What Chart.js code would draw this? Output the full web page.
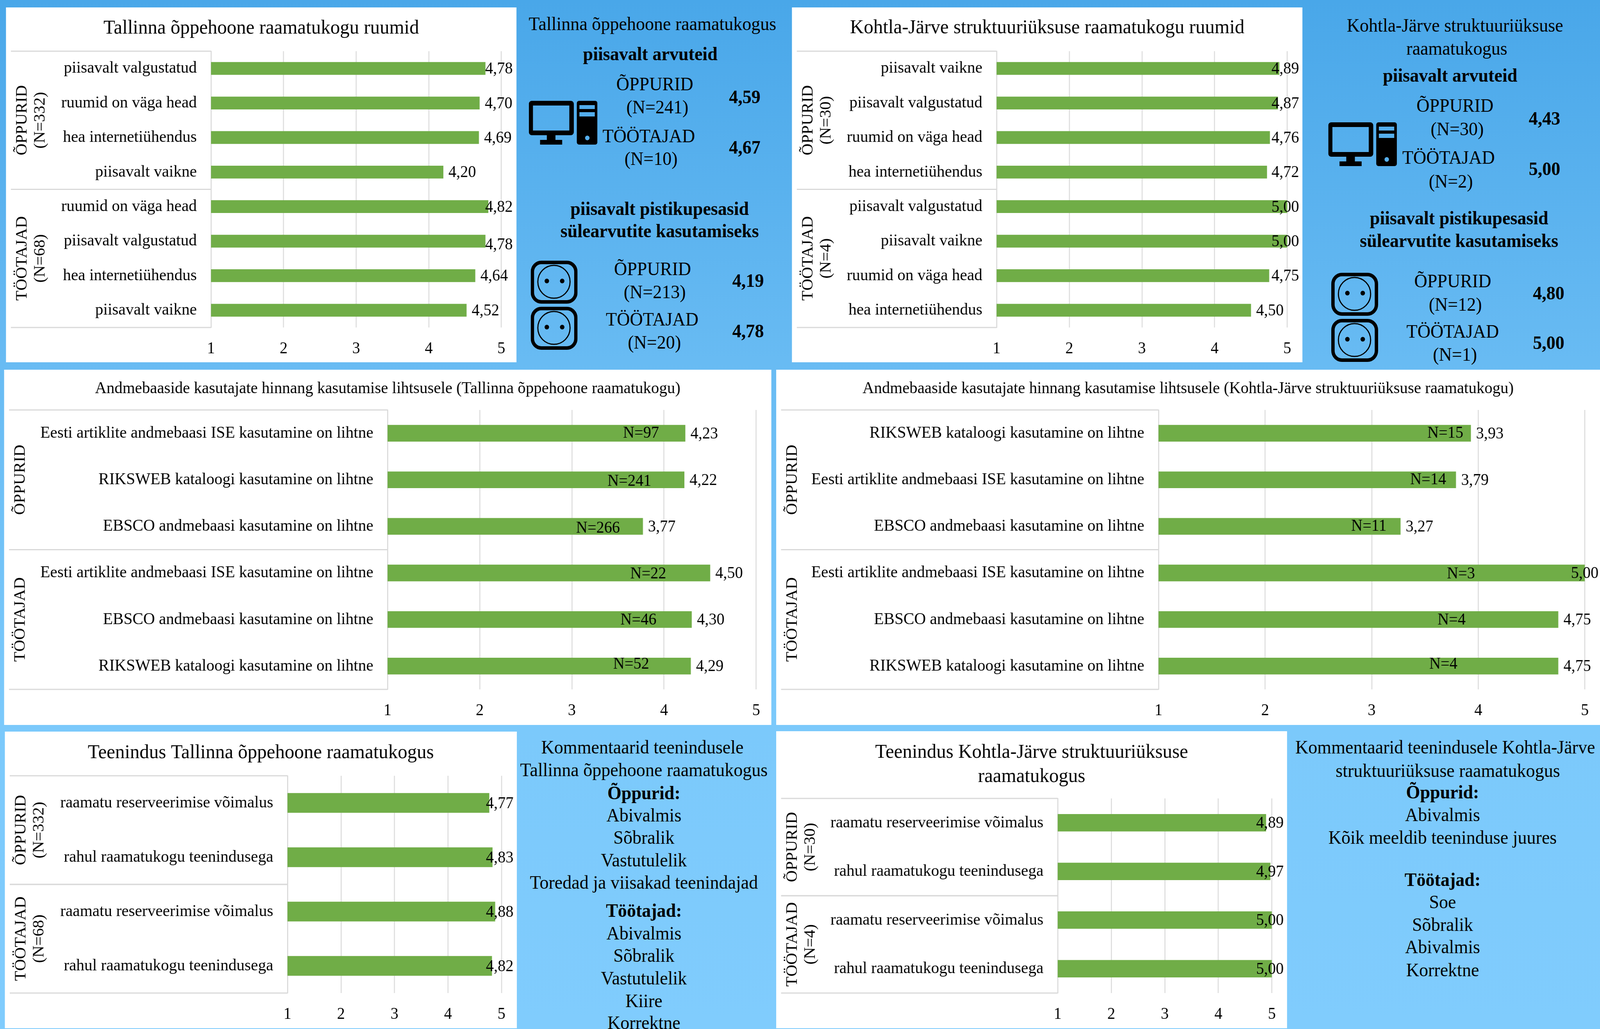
<!DOCTYPE html>
<html>
<head>
<meta charset="utf-8">
<script src="https://cdn.jsdelivr.net/npm/chart.js@4"></script>
<style>
html, body { margin: 0; padding: 0; overflow: hidden; }
#page {
    position: absolute; left: 0; top: 0; width: 4269px; height: 2633px; overflow: hidden;
    transform-origin: 0 0;
    background: linear-gradient(180deg, #49a7e9 0%, #68bbf3 35%, #7bc9fb 70%, #80ccfd 100%);
    font-family: "Liberation Serif", serif; color: #000;
}
.white { position: absolute; background: #fff; }
.white canvas { display: block; }
.txt { position: absolute; transform: translate(-50%, -50%); white-space: nowrap; line-height: 1; }
.ico { position: absolute; }
</style>
</head>
<body>
<svg width="0" height="0" style="position:absolute">
    <symbol id="computer" viewBox="0 0 183 112">
        <path fill-rule="evenodd" d="M8 0H112A8 8 0 0 1 120 8V80A8 8 0 0 1 112 88H71V100H89V112H30V100H48V88H8A8 8 0 0 1 0 80V8A8 8 0 0 1 8 0ZM11 12V76H108V12Z"/>
        <path fill-rule="evenodd" d="M134 0H177A6 6 0 0 1 183 6V106A6 6 0 0 1 177 112H134A6 6 0 0 1 128 106V6A6 6 0 0 1 134 0ZM135 11V21H176V11ZM135 29V40H176V29ZM150 95A6 6 0 1 0 162 95A6 6 0 1 0 150 95Z"/>
    </symbol>
    <symbol id="socket" viewBox="0 0 125 110">
        <rect x="4.5" y="4.5" width="116" height="101" rx="24" fill="none" stroke="#000" stroke-width="9"/>
        <ellipse cx="62" cy="54" rx="43" ry="42" fill="none" stroke="#000" stroke-width="3"/>
        <circle cx="43" cy="52" r="6"/>
        <circle cx="84" cy="52" r="6"/>
    </symbol>
</svg>
<div id="page"></div>
<script>
Chart.defaults.devicePixelRatio = 1;

// the browser window stops at 4096 wide, so squeeze the 4269 wide layout into it
const page = document.getElementById('page');
page.style.transform = 'scaleX(' + (window.innerWidth / 4269) + ')';

// ruumid
const tallinnRoomLabels = ['piisavalt valgustatud', 'ruumid on väga head', 'hea internetiühendus', 'piisavalt vaikne', 'ruumid on väga head', 'piisavalt valgustatud', 'hea internetiühendus', 'piisavalt vaikne'];
const tallinnRoomValues = [4.78, 4.70, 4.69, 4.20, 4.82, 4.78, 4.64, 4.52];
const kohtlaRoomLabels = ['piisavalt vaikne', 'piisavalt valgustatud', 'ruumid on väga head', 'hea internetiühendus', 'piisavalt valgustatud', 'piisavalt vaikne', 'ruumid on väga head', 'hea internetiühendus'];
const kohtlaRoomValues = [4.89, 4.87, 4.76, 4.72, 5.00, 5.00, 4.75, 4.50];

// andmebaasid
const ise = 'Eesti artiklite andmebaasi ISE kasutamine on lihtne';
const riks = 'RIKSWEB kataloogi kasutamine on lihtne';
const ebsco = 'EBSCO andmebaasi kasutamine on lihtne';
const tallinnDbLabels = [ise, riks, ebsco, ise, ebsco, riks];
const tallinnDbValues = [4.23, 4.22, 3.77, 4.50, 4.30, 4.29];
const tallinnDbCounts = ['N=97', 'N=241', 'N=266', 'N=22', 'N=46', 'N=52'];
const kohtlaDbLabels = [riks, ise, ebsco, ise, ebsco, riks];
const kohtlaDbValues = [3.93, 3.79, 3.27, 5.00, 4.75, 4.75];
const kohtlaDbCounts = ['N=15', 'N=14', 'N=11', 'N=3', 'N=4', 'N=4'];

// teenindus
const serviceLabels = ['raamatu reserveerimise võimalus', 'rahul raamatukogu teenindusega', 'raamatu reserveerimise võimalus', 'rahul raamatukogu teenindusega'];
const tallinnServiceValues = [4.77, 4.83, 4.88, 4.82];
const kohtlaServiceValues = [4.89, 4.97, 5.00, 5.00];

const axisTicks = [1, 2, 3, 4, 5];

const serif = 'Liberation Serif';

const groupLabels = {
    id: 'groupLabels',
    afterDraw(chart, args, opts) {
        const c = chart.ctx, a = chart.chartArea;
        const slot = (a.bottom - a.top) / chart.data.labels.length;
        c.save();
        let start = 0;
        opts.groups.forEach(g => {
            const top = a.top + start * slot, bottom = top + g.count * slot;
            c.strokeStyle = '#d9d9d9';
            c.lineWidth = 3;
            c.beginPath();
            c.moveTo(13, top); c.lineTo(a.left, top);
            c.moveTo(13, bottom); c.lineTo(a.left, bottom);
            c.stroke();
            c.fillStyle = '#000';
            c.font = '42px "' + serif + '"';
            c.textAlign = 'center';
            c.textBaseline = 'middle';
            g.lines.forEach((t, i) => {
                c.save();
                c.translate(44 + i * 48, (top + bottom) / 2);
                c.rotate(-Math.PI / 2);
                c.fillText(t, 0, 0);
                c.restore();
            });
            start += g.count;
        });
        c.restore();
    }
};

const barLabels = {
    id: 'barLabels',
    afterDatasetsDraw(chart, args, opts) {
        const c = chart.ctx;
        const bars = chart.getDatasetMeta(0).data;
        const values = chart.data.datasets[0].data;
        c.save();
        c.fillStyle = '#000';
        c.font = '42px "' + serif + '"';
        c.textBaseline = 'middle';
        c.textAlign = 'left';
        bars.forEach((b, i) => {
            const t = values[i].toFixed(2).replace('.', ',');
            const w = c.measureText(t).width;
            const x = Math.min(b.x + 14, chart.width - opts.margin - w);
            c.fillText(t, x, b.y + 2 + (opts.shift ? opts.shift[i] : 0));
        });
        if (opts.counts) {
            c.textAlign = 'right';
            bars.forEach((b, i) => {
                c.fillText(opts.counts[i], b.x - opts.gaps[i], b.y + opts.drop[i]);
            });
        }
        c.restore();
    }
};

function makeChart(cfg) {
    const box = cfg.box, plot = cfg.plot;
    const div = document.createElement('div');
    div.className = 'white';
    div.style.left = box[0] + 'px';
    div.style.top = box[1] + 'px';
    div.style.width = (box[2] - box[0]) + 'px';
    div.style.height = (box[3] - box[1]) + 'px';
    const canvas = document.createElement('canvas');
    canvas.width = box[2] - box[0];
    canvas.height = box[3] - box[1];
    div.appendChild(canvas);
    page.appendChild(div);

    const titleLines = cfg.title.length;
    const titleH = titleLines * cfg.titleSize * 1.2;
    const padTop = cfg.titleY - box[1] - cfg.titleSize * 0.6;
    const padBottom = plot[1] - box[1] - padTop - titleH;
    // same padding on both sides keeps the title in the middle of the panel
    const side = box[2] - plot[2];

    return new Chart(canvas, {
        type: 'bar',
        data: {
            labels: cfg.labels,
            datasets: [{
                data: cfg.values,
                backgroundColor: '#70ad47',
                barThickness: cfg.barSize,
                borderWidth: 0
            }]
        },
        plugins: [groupLabels, barLabels],
        options: {
            indexAxis: 'y',
            responsive: false,
            animation: false,
            layout: { padding: { left: side, top: 0, right: side, bottom: 0 } },
            scales: {
                x: {
                    min: axisTicks[0],
                    max: axisTicks[axisTicks.length - 1],
                    afterBuildTicks: s => { s.ticks = axisTicks.map(v => ({ value: v })); },
                    afterFit: s => { s.height = box[3] - plot[3]; },
                    grid: { color: '#d9d9d9', lineWidth: 2.5, drawTicks: false },
                    border: { display: false },
                    ticks: { color: '#000', font: { family: serif, size: 42 }, padding: 30, maxRotation: 0 }
                },
                y: {
                    afterFit: s => { s.width = plot[0] - box[0] - side; },
                    grid: { display: false, drawTicks: false },
                    border: { color: '#d9d9d9', width: 2.5 },
                    ticks: { color: '#000', font: { family: serif, size: cfg.tickSize }, padding: 38, autoSkip: false }
                }
            },
            plugins: {
                legend: { display: false },
                tooltip: { enabled: false },
                title: {
                    display: true,
                    text: cfg.title,
                    color: '#000',
                    font: { family: serif, size: cfg.titleSize, weight: 'normal', lineHeight: 1.2 },
                    padding: { top: padTop, bottom: padBottom }
                },
                groupLabels: { groups: cfg.groups },
                barLabels: { margin: cfg.margin, counts: cfg.counts, gaps: cfg.gaps, drop: cfg.drop, shift: cfg.shift }
            }
        }
    });
}

makeChart({
    box: [16, 19, 1378, 927], plot: [563, 131, 1338, 838],
    title: ['Tallinna õppehoone raamatukogu ruumid'], titleY: 73, titleSize: 51, tickSize: 43,
    labels: tallinnRoomLabels, values: tallinnRoomValues, barSize: 32, margin: 10,
    shift: [0, 0, 0, 0, 0, 8, 0, 0],
    groups: [{ lines: ['ÕPPURID', '(N=332)'], count: 4 }, { lines: ['TÖÖTAJAD', '(N=68)'], count: 4 }]
});
makeChart({
    box: [2113, 19, 3475, 927], plot: [2659, 131, 3435, 838],
    title: ['Kohtla-Järve struktuuriüksuse raamatukogu ruumid'], titleY: 72, titleSize: 51, tickSize: 43,
    labels: kohtlaRoomLabels, values: kohtlaRoomValues, barSize: 32, margin: 9,
    groups: [{ lines: ['ÕPPURID', '(N=30)'], count: 4 }, { lines: ['TÖÖTAJAD', '(N=4)'], count: 4 }]
});
makeChart({
    box: [11, 946, 2058, 1855], plot: [1034, 1049, 2018, 1764],
    title: ['Andmebaaside kasutajate hinnang kasutamise lihtsusele (Tallinna õppehoone raamatukogu)'], titleY: 995, titleSize: 42.6, tickSize: 43,
    labels: tallinnDbLabels, values: tallinnDbValues, barSize: 42, margin: 4,
    counts: tallinnDbCounts, gaps: [70, 88, 61, 117, 94, 111], drop: [0, 4, 5, 3, 2, -4],
    groups: [{ lines: ['ÕPPURID'], count: 3 }, { lines: ['TÖÖTAJAD'], count: 3 }]
});
makeChart({
    box: [2071, 946, 4269, 1855], plot: [3091, 1049, 4233, 1764],
    title: ['Andmebaaside kasutajate hinnang kasutamise lihtsusele (Kohtla-Järve struktuuriüksuse raamatukogu)'], titleY: 995, titleSize: 42.6, tickSize: 43,
    labels: kohtlaDbLabels, values: kohtlaDbValues, barSize: 42, margin: 4,
    counts: kohtlaDbCounts, gaps: [20, 26, 37, 293, 247, 269], drop: [0, 0, 0, 3, 2, -4],
    groups: [{ lines: ['ÕPPURID'], count: 3 }, { lines: ['TÖÖTAJAD'], count: 3 }]
});
makeChart({
    box: [13, 1872, 1379, 2631], plot: [767, 1985, 1338, 2541],
    title: ['Teenindus Tallinna õppehoone raamatukogus'], titleY: 1927, titleSize: 51, tickSize: 43,
    labels: serviceLabels, values: tallinnServiceValues, barSize: 50, margin: 9,
    groups: [{ lines: ['ÕPPURID', '(N=332)'], count: 2 }, { lines: ['TÖÖTAJAD', '(N=68)'], count: 2 }]
});
makeChart({
    box: [2071, 1871, 3434, 2631], plot: [2822, 2043, 3394, 2541],
    title: ['Teenindus Kohtla-Järve struktuuriüksuse', 'raamatukogus'], titleY: 1926, titleSize: 51, tickSize: 43,
    labels: serviceLabels, values: kohtlaServiceValues, barSize: 44, margin: 9,
    groups: [{ lines: ['ÕPPURID', '(N=30)'], count: 2 }, { lines: ['TÖÖTAJAD', '(N=4)'], count: 2 }]
});

// tekstipaneelid
const pcTallinn = ['4,59', '4,67'];
const plugTallinn = ['4,19', '4,78'];
const pcKohtla = ['4,43', '5,00'];
const plugKohtla = ['4,80', '5,00'];

const panelTexts = [
    ['Tallinna õppehoone raamatukogus', 1741, 61, 48],
    ['piisavalt arvuteid', 1735, 138, 48, 1],
    ['ÕPPURID', 1747, 215, 48],
    ['(N=241)', 1754, 274, 48],
    ['TÖÖTAJAD', 1731, 348, 48],
    ['(N=10)', 1737, 406, 48],
    [pcTallinn[0], 1987, 248, 48, 1],
    [pcTallinn[1], 1987, 377, 48, 1],
    ['piisavalt pistikupesasid', 1760, 534, 48, 1],
    ['sülearvutite kasutamiseks', 1760, 591, 48, 1],
    ['ÕPPURID', 1741, 688, 48],
    ['(N=213)', 1747, 747, 48],
    ['TÖÖTAJAD', 1740, 817, 48],
    ['(N=20)', 1746, 876, 48],
    [plugTallinn[0], 1996, 718, 48, 1],
    [plugTallinn[1], 1996, 847, 48, 1],

    ['Kohtla-Järve struktuuriüksuse', 3882, 65, 48],
    ['raamatukogus', 3887, 124, 48],
    ['piisavalt arvuteid', 3869, 193, 48, 1],
    ['ÕPPURID', 3882, 270, 48],
    ['(N=30)', 3888, 330, 48],
    ['TÖÖTAJAD', 3865, 403, 48],
    ['(N=2)', 3871, 464, 48],
    [pcKohtla[0], 4121, 303, 48, 1],
    [pcKohtla[1], 4121, 432, 48, 1],
    ['piisavalt pistikupesasid', 3893, 558, 48, 1],
    ['sülearvutite kasutamiseks', 3893, 616, 48, 1],
    ['ÕPPURID', 3876, 719, 48],
    ['(N=12)', 3883, 779, 48],
    ['TÖÖTAJAD', 3876, 848, 48],
    ['(N=1)', 3882, 907, 48],
    [plugKohtla[0], 4132, 750, 48, 1],
    [plugKohtla[1], 4132, 877, 48, 1],

    ['Kommentaarid teenindusele', 1714, 1912, 48],
    ['Tallinna õppehoone raamatukogus', 1718, 1970, 48],
    ['Õppurid:', 1718, 2029, 48, 1],
    ['Abivalmis', 1718, 2086, 48],
    ['Sõbralik', 1718, 2143, 48],
    ['Vastutulelik', 1718, 2201, 48],
    ['Toredad ja viisakad teenindajad', 1718, 2258, 48],
    ['Töötajad:', 1718, 2330, 48, 1],
    ['Abivalmis', 1718, 2388, 48],
    ['Sõbralik', 1718, 2445, 48],
    ['Vastutulelik', 1718, 2503, 48],
    ['Kiire', 1718, 2561, 48],
    ['Korrektne', 1718, 2617, 48],

    ['Kommentaarid teenindusele Kohtla-Järve', 3856, 1912, 48],
    ['struktuuriüksuse raamatukogus', 3863, 1972, 48],
    ['Õppurid:', 3849, 2027, 48, 1],
    ['Abivalmis', 3849, 2085, 48],
    ['Kõik meeldib teeninduse juures', 3849, 2143, 48],
    ['Töötajad:', 3849, 2251, 48, 1],
    ['Soe', 3849, 2308, 48],
    ['Sõbralik', 3849, 2366, 48],
    ['Abivalmis', 3849, 2423, 48],
    ['Korrektne', 3849, 2482, 48]
];

panelTexts.forEach(p => {
    const d = document.createElement('div');
    d.className = 'txt';
    d.textContent = p[0];
    d.style.left = p[1] + 'px';
    d.style.top = p[2] + 'px';
    d.style.fontSize = p[3] + 'px';
    if (p[4]) d.style.fontWeight = 'bold';
    page.appendChild(d);
});

const icons = [
    ['computer', 1411, 258, 183, 112],
    ['computer', 3544, 313, 183, 112],
    ['socket', 1416, 667, 125, 110],
    ['socket', 1416, 785, 125, 110],
    ['socket', 3552, 698, 125, 110],
    ['socket', 3552, 816, 125, 110]
];
icons.forEach(i => {
    page.insertAdjacentHTML('beforeend',
        '<svg class="ico" style="left:' + i[1] + 'px;top:' + i[2] + 'px" width="' + i[3] + '" height="' + i[4] + '"><use href="#' + i[0] + '"/></svg>');
});
</script>
</body>
</html>
